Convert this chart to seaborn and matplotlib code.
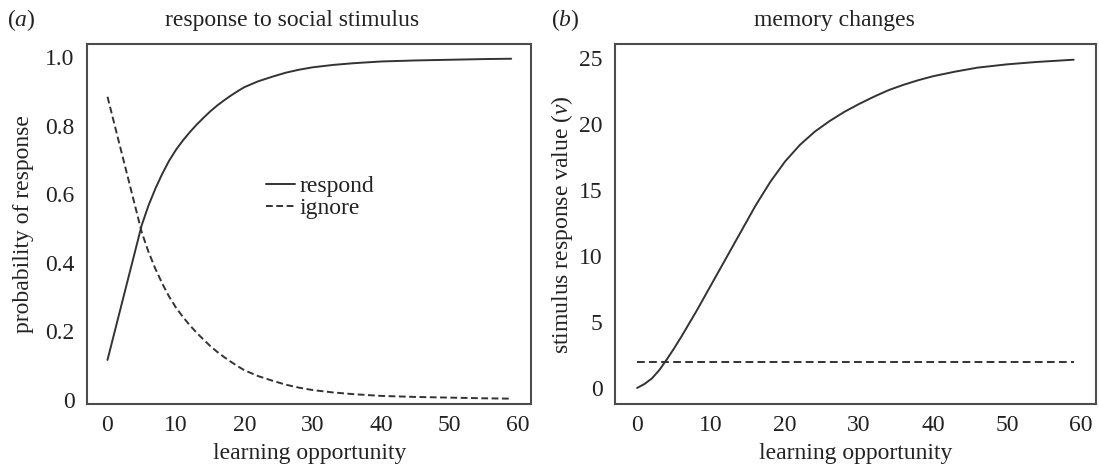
import matplotlib
matplotlib.use("Agg")
import matplotlib.pyplot as plt
import seaborn as sns
import pandas as pd

# ---------------- data ----------------
x_left = [0, 5, 6, 7, 8, 9, 10, 11, 12, 13, 14, 15, 16, 17, 18, 19, 20,
          22, 24, 26, 28, 30, 33, 36, 40, 45, 50, 55, 59]
respond = [0.117, 0.51, 0.568, 0.617, 0.66, 0.698, 0.73, 0.757, 0.781, 0.803,
           0.823, 0.842, 0.859, 0.874, 0.888, 0.901, 0.913, 0.93, 0.943,
           0.955, 0.964, 0.971, 0.978, 0.983, 0.988, 0.991, 0.993, 0.995, 0.996]
ignore = [0.885, 0.49, 0.432, 0.383, 0.34, 0.302, 0.27, 0.243, 0.219, 0.197,
          0.177, 0.158, 0.141, 0.126, 0.112, 0.099, 0.087, 0.070, 0.057,
          0.045, 0.036, 0.029, 0.022, 0.017, 0.012, 0.009, 0.007, 0.005, 0.004]

x_right = [0, 1, 2, 3, 4, 5, 6, 7, 8, 9, 10, 12, 14, 16, 18, 20, 22, 24, 26,
           28, 30, 32, 34, 36, 38, 40, 43, 46, 50, 54, 59]
stim_value = [0.0, 0.3, 0.72, 1.35, 2.15, 3.0, 3.9, 4.85, 5.8, 6.8, 7.8,
              9.8, 11.8, 13.8, 15.6, 17.15, 18.4, 19.4, 20.2, 20.9, 21.5,
              22.05, 22.55, 22.95, 23.3, 23.6, 23.95, 24.25, 24.5, 24.68, 24.85]
x_thresh = [0, 59]
thresh = [2, 2]

left_yticks = [0, 0.2, 0.4, 0.6, 0.8, 1.0]
left_yticklabels = ["0", "0.2", "0.4", "0.6", "0.8", "1.0"]
right_yticks = [0, 5, 10, 15, 20, 25]
xticks = [0, 10, 20, 30, 40, 50, 60]

# ---------------- style ----------------
sns.set_theme(style="white")
plt.rcParams["font.family"] = ["Liberation Serif", "DejaVu Serif"]
plt.rcParams["mathtext.fontset"] = "custom"
plt.rcParams["mathtext.rm"] = "Liberation Serif"
plt.rcParams["mathtext.it"] = "Liberation Serif:italic"

FS = 17
LC = "#333333"
SC = "#4d4d4d"
TC = "#222222"

fig = plt.figure(figsize=(10.99, 4.68), dpi=100)
W, H = 1099, 468
def ax_rect(l, r, t, b):
    return [l / W, 1 - b / H, (r - l) / W, (b - t) / H]

axL = fig.add_axes(ax_rect(87.3, 531.4, 44, 404.3))
axR = fig.add_axes(ax_rect(615.3, 1095.5, 44, 404.3))

df_l = pd.DataFrame({"x": x_left, "respond": respond, "ignore": ignore})
df_r = pd.DataFrame({"x": x_right, "v": stim_value})
df_t = pd.DataFrame({"x": x_thresh, "v": thresh})

sns.lineplot(data=df_l, x="x", y="respond", ax=axL, color=LC, lw=1.4,
             label="respond")
sns.lineplot(data=df_l, x="x", y="ignore", ax=axL, color=LC, lw=1.4,
             dashes=(3.5, 1.8), label="ignore")

sns.lineplot(data=df_r, x="x", y="v", ax=axR, color=LC, lw=1.4)
sns.lineplot(data=df_t, x="x", y="v", ax=axR, color=LC, lw=1.4,
             dashes=(4, 2.2))

for ax in (axL, axR):
    ax.set_xlim(-2.95, 61.95)
    ax.set_xticks(xticks)
    ax.set_xticklabels([str(t) for t in xticks])
    for s in ax.spines.values():
        s.set_color(SC)
        s.set_linewidth(1.5)
        s.set_visible(True)
    ax.tick_params(axis="both", which="major", direction="out", length=3.3,
                   width=1.0, color=SC, labelsize=FS, labelcolor=TC)
    ax.tick_params(axis="x", pad=4.5)
    ax.tick_params(axis="y", pad=6)
    ax.set_xlabel("learning opportunity", fontsize=FS, color=TC)
    ax.xaxis.set_label_coords(0.5, -0.107)
    ax.xaxis.label.set_va("top")
    ax.grid(False)

axL.set_ylim(-0.0125, 1.039)
axL.set_yticks(left_yticks)
axL.set_yticklabels(left_yticklabels)
axL.set_ylabel("probability of response", fontsize=FS, color=TC)
axL.yaxis.set_label_coords(-0.12, 0.5)

axR.set_ylim(-1.24, 26.04)
axR.set_yticks(right_yticks)
axR.set_yticklabels([str(t) for t in right_yticks])
axR.set_ylabel(r"stimulus response value ($\mathit{v}$)", fontsize=FS,
               color=TC)
axR.yaxis.set_label_coords(-0.084, 0.5)
if axR.get_legend() is not None:
    axR.get_legend().remove()

leg = axL.legend(loc="upper left", bbox_to_anchor=(0.403, 0.635),
                 frameon=False, fontsize=FS, handlelength=1.2,
                 handletextpad=0.22, labelspacing=0.02, borderpad=0,
                 borderaxespad=0)
for t in leg.get_texts():
    t.set_color(TC)

fig.text(292 / W, 1 - 26 / H, "response to social stimulus", ha="center",
         va="baseline", fontsize=FS, color=TC)
fig.text(834 / W, 1 - 26 / H, "memory changes", ha="center",
         va="baseline", fontsize=FS, color=TC)
fig.text(7 / W, 1 - 26 / H, r"($\mathit{a}$)", ha="left", va="baseline",
         fontsize=FS, color=TC)
fig.text(551 / W, 1 - 26 / H, r"($\mathit{b}$)", ha="left", va="baseline",
         fontsize=FS, color=TC)

fig.savefig("out.png", dpi=100, facecolor="white")
